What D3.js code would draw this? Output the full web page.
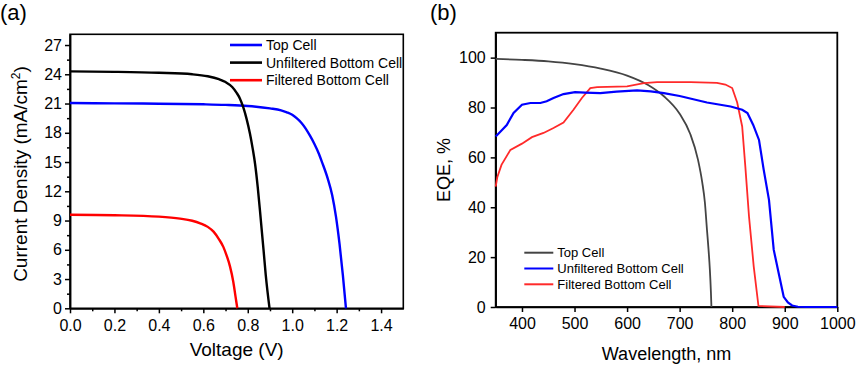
<!DOCTYPE html>
<html>
<head>
<meta charset="utf-8">
<script src="https://cdn.jsdelivr.net/npm/d3@7"></script>
<style>
  body { margin: 0; background: #fff; }
  svg { font-family: "Liberation Sans", Arial, sans-serif; }
  .axis text { font-size: 16px; fill: #000; }
  .axis path, .axis line { stroke: #000; stroke-width: 1.5px; }
</style>
</head>
<body>
<svg id="chart" width="858" height="365"></svg>
<script>
// ---- panel (a): J-V curves ----
const seriesNames = ["Top Cell", "Unfiltered Bottom Cell", "Filtered Bottom Cell"];

const topV = [0, 0.2, 0.4, 0.6, 0.7, 0.8, 0.9, 0.95, 0.976, 1.0, 1.02, 1.04, 1.06, 1.08, 1.1, 1.12, 1.134, 1.16, 1.18, 1.197, 1.213, 1.228, 1.242];
const topJ = [21.05, 21.02, 20.98, 20.92, 20.86, 20.75, 20.5, 20.3, 20.1, 19.85, 19.5, 19.05, 18.45, 17.7, 16.85, 15.85, 15.0, 13.3, 11.6, 9.4, 6.6, 3.4, 0];

const unfilteredV = [0, 0.2, 0.4, 0.55, 0.62, 0.67, 0.70, 0.73, 0.75, 0.765, 0.78, 0.795, 0.81, 0.822, 0.833, 0.845, 0.859, 0.871, 0.881, 0.898];
const unfilteredJ = [24.3, 24.25, 24.15, 24.0, 23.8, 23.5, 23.2, 22.7, 22.1, 21.5, 20.6, 19.4, 17.9, 16.4, 14.8, 12.4, 9.0, 6.0, 3.4, 0];

const filteredV = [0, 0.2, 0.4, 0.495, 0.55, 0.586, 0.62, 0.646, 0.67, 0.69, 0.705, 0.72, 0.735, 0.745, 0.753];
const filteredJ = [9.6, 9.55, 9.4, 9.2, 8.98, 8.72, 8.35, 7.86, 7.1, 6.3, 5.4, 4.3, 2.7, 1.2, 0];

const voltageTicks = [0, 0.2, 0.4, 0.6, 0.8, 1.0, 1.2, 1.4];
const currentTicks = [0, 3, 6, 9, 12, 15, 18, 21, 24, 27];

// ---- panel (b): EQE ----
const topNm = [350, 400, 450, 500, 550, 600, 640, 670, 700, 720, 735, 743, 748, 752, 755, 757.5, 759.5, 760.5];
const topEQE = [99.5, 99.1, 98.5, 97.4, 95.6, 92.8, 89.0, 84.5, 77.5, 69.5, 59, 50, 42, 31, 23, 15, 6, 0];

const unfilteredNm = [350, 362, 371, 384, 400, 416, 435, 447, 460, 479, 501, 520, 549, 580, 619, 645, 670, 700, 752, 797, 819, 829, 840, 851, 860, 870, 879, 889, 898, 906, 914, 925, 940, 1000];
const unfilteredEQE = [68.4, 71, 73, 77.8, 81.1, 81.8, 81.8, 82.5, 83.8, 85.4, 86.2, 86.0, 85.8, 86.4, 86.9, 86.5, 85.8, 84.6, 82.0, 80.4, 79.1, 77.8, 73, 67, 55, 43, 23, 13, 4.1, 1.8, 0.6, 0.1, 0, 0];

const filteredNm = [350, 353, 361, 378, 400, 419, 441, 460, 479, 498, 514, 530, 543, 600, 632, 657, 721, 771, 787, 800, 809.5, 819, 825, 832, 841, 850, 900];
const filteredEQE = [48.3, 52, 57, 63, 65.5, 68.1, 69.8, 71.8, 74, 79.1, 83.8, 87.8, 88.2, 88.5, 89.8, 90.2, 90.2, 89.9, 89.2, 87.8, 82, 72.4, 56.3, 36.3, 16.2, 0.4, 0];

const wavelengthTicks = [400, 500, 600, 700, 800, 900, 1000];
const eqeTicks = [0, 20, 40, 60, 80, 100];

const colorsA = ["#0000ff", "#000000", "#ff0000"];
const colorsB = ["#444444", "#0000ff", "#ff2a2a"];

const zip = (xs, ys) => xs.map((x, i) => [x, ys[i]]);

const svg = d3.select("#chart");

// ================= panel (a) =================
const xA = d3.scaleLinear().domain([0, 1.5]).range([70, 403.3]);
const yA = d3.scaleLinear().domain([0, 28.1]).range([308.3, 34.3]);

const gA = svg.append("g");

gA.append("g")
  .attr("class", "axis")
  .attr("transform", "translate(0," + yA(0) + ")")
  .call(d3.axisBottom(xA).tickValues(d3.range(0.1, 1.5, 0.2)).tickSize(3).tickFormat("").tickSizeOuter(0));
gA.append("g")
  .attr("class", "axis")
  .attr("transform", "translate(0," + yA(0) + ")")
  .call(d3.axisBottom(xA).tickValues(voltageTicks).tickSize(5).tickPadding(6).tickFormat(d3.format(".1f")).tickSizeOuter(0));

gA.append("g")
  .attr("class", "axis")
  .attr("transform", "translate(" + xA(0) + ",0)")
  .call(d3.axisLeft(yA).tickValues(d3.range(1.5, 28, 3)).tickSize(3).tickFormat("").tickSizeOuter(0));
gA.append("g")
  .attr("class", "axis")
  .attr("transform", "translate(" + xA(0) + ",0)")
  .call(d3.axisLeft(yA).tickValues(currentTicks).tickSize(5).tickPadding(3).tickSizeOuter(0));

gA.append("rect")
  .attr("x", xA(0)).attr("y", yA(28.1))
  .attr("width", xA(1.5) - xA(0)).attr("height", yA(0) - yA(28.1))
  .attr("fill", "none").attr("stroke", "#000").attr("stroke-width", 1.6);

const lineA = d3.line().x(d => xA(d[0])).y(d => yA(d[1])).curve(d3.curveMonotoneX);
const dataA = [zip(topV, topJ), zip(unfilteredV, unfilteredJ), zip(filteredV, filteredJ)];

gA.selectAll(".jv")
  .data(dataA)
  .enter()
  .append("path")
  .attr("class", "jv")
  .attr("d", lineA)
  .attr("fill", "none")
  .attr("stroke", (d, i) => colorsA[i])
  .attr("stroke-width", 2.4);

// legend (a)
seriesNames.forEach((name, i) => {
  const y = 45 + i * 17.6;
  gA.append("line")
    .attr("x1", 230).attr("x2", 262).attr("y1", y).attr("y2", y)
    .attr("stroke", colorsA[i]).attr("stroke-width", 2.6);
  gA.append("text")
    .attr("x", 266).attr("y", y).attr("dy", "0.36em")
    .attr("font-size", "14px")
    .text(name);
});

gA.append("text")
  .attr("x", (xA(0) + xA(1.5)) / 2).attr("y", 356)
  .attr("text-anchor", "middle").attr("font-size", "19px")
  .text("Voltage (V)");

const yTitleA = gA.append("text")
  .attr("transform", "translate(27,174) rotate(-90)")
  .attr("text-anchor", "middle").attr("font-size", "19px");
yTitleA.append("tspan").text("Current Density (mA/cm");
yTitleA.append("tspan").attr("baseline-shift", "super").attr("font-size", "12px").text("2");
yTitleA.append("tspan").text(")");

svg.append("text")
  .attr("x", 0).attr("y", 20)
  .attr("font-size", "22px")
  .text("(a)");

// ================= panel (b) =================
const xB = d3.scaleLinear().domain([350, 1000]).range([495.7, 837.3]);
const yB = d3.scaleLinear().domain([0, 110]).range([307, 32.7]);

const gB = svg.append("g");

gB.append("g")
  .attr("class", "axis")
  .attr("transform", "translate(0," + yB(0) + ")")
  .call(d3.axisBottom(xB).tickValues(wavelengthTicks).tickSize(5).tickPadding(6).tickFormat(d3.format("d")).tickSizeOuter(0));

gB.append("g")
  .attr("class", "axis")
  .attr("transform", "translate(" + xB(350) + ",0)")
  .call(d3.axisLeft(yB).tickValues(eqeTicks).tickSize(5).tickPadding(5).tickSizeOuter(0));

gB.append("rect")
  .attr("x", xB(350)).attr("y", yB(110))
  .attr("width", xB(1000) - xB(350)).attr("height", yB(0) - yB(110))
  .attr("fill", "none").attr("stroke", "#000").attr("stroke-width", 1.8);

const lineSmooth = d3.line().x(d => xB(d[0])).y(d => yB(d[1])).curve(d3.curveMonotoneX);
const lineStraight = d3.line().x(d => xB(d[0])).y(d => yB(d[1]));

gB.append("path")
  .attr("d", lineSmooth(zip(topNm, topEQE)))
  .attr("fill", "none").attr("stroke", colorsB[0]).attr("stroke-width", 1.8);
gB.append("path")
  .attr("d", lineStraight(zip(filteredNm, filteredEQE)))
  .attr("fill", "none").attr("stroke", colorsB[2]).attr("stroke-width", 1.8);
gB.append("path")
  .attr("d", lineStraight(zip(unfilteredNm, unfilteredEQE)))
  .attr("fill", "none").attr("stroke", colorsB[1]).attr("stroke-width", 2.2);

// legend (b)
seriesNames.forEach((name, i) => {
  const y = 252.7 + i * 15.8;
  gB.append("line")
    .attr("x1", 524.3).attr("x2", 553.3).attr("y1", y).attr("y2", y)
    .attr("stroke", colorsB[i]).attr("stroke-width", 2);
  gB.append("text")
    .attr("x", 557.3).attr("y", y).attr("dy", "0.36em")
    .attr("font-size", "13px")
    .text(name);
});

gB.append("text")
  .attr("x", (xB(350) + xB(1000)) / 2).attr("y", 360)
  .attr("text-anchor", "middle").attr("font-size", "18px")
  .text("Wavelength, nm");

gB.append("text")
  .attr("transform", "translate(450,170) rotate(-90)")
  .attr("text-anchor", "middle").attr("font-size", "18px")
  .text("EQE, %");

svg.append("text")
  .attr("x", 430).attr("y", 20)
  .attr("font-size", "22px")
  .text("(b)");
</script>
</body>
</html>
